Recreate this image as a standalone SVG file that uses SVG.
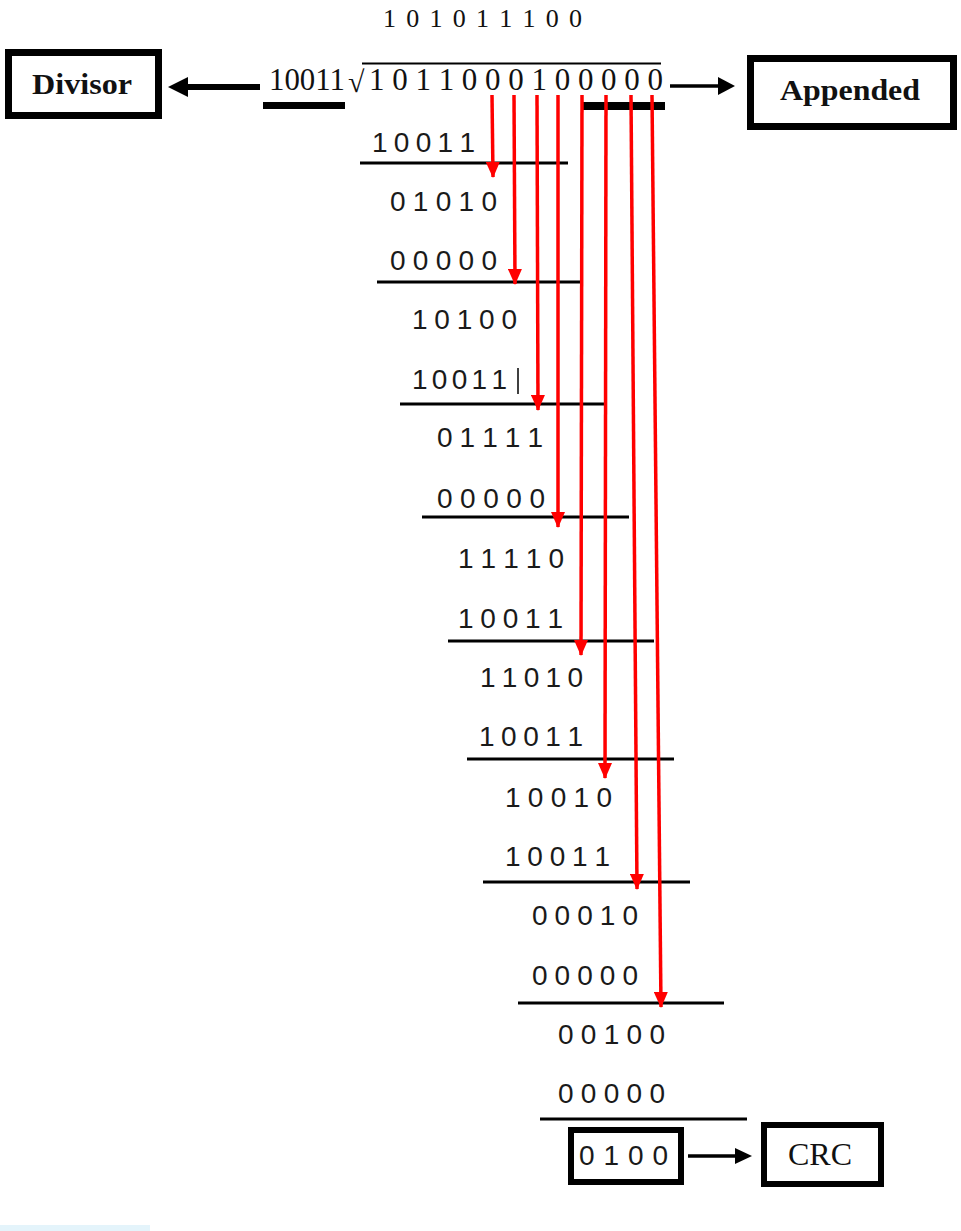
<svg xmlns="http://www.w3.org/2000/svg" width="961" height="1231" viewBox="0 0 961 1231">
<style>
.row{font-family:"Liberation Sans","DejaVu Sans",sans-serif;font-size:28px;fill:#1a1a1a}
.ser{font-family:"Liberation Serif","DejaVu Serif",serif;fill:#111}
.lbl{font-family:"Liberation Serif","DejaVu Serif",serif;font-weight:bold;fill:#111}
.box{fill:none;stroke:#000}
.rule{stroke:#000;stroke-width:3}
.red{stroke:#ff0000;stroke-width:3.5;fill:none;marker-end:url(#rh)}
</style>
<defs>
<marker id="rh" markerUnits="userSpaceOnUse" markerWidth="16" markerHeight="14" refX="15" refY="7" orient="auto">
<path d="M0,0 L16,7 L0,14 z" fill="#ff0000"/>
</marker>
</defs>
<rect width="961" height="1231" fill="#fff"/>
<rect x="0" y="1225" width="150" height="6" fill="#e4f4fb"/>

<g id="quotient">
<text class="ser" x="383" y="27" font-size="26" textLength="199" lengthAdjust="spacing">1 0 1 0 1 1 1 0 0</text>
</g>

<g id="division-line">
<text class="ser" x="269" y="90" font-size="31" textLength="76" lengthAdjust="spacingAndGlyphs">10011</text>
<text class="ser" x="348" y="92" font-size="30">√</text>
<line x1="362" y1="63.5" x2="661" y2="63.5" stroke="#000" stroke-width="2"/>
<text class="ser" x="369" y="90" font-size="31" textLength="294" lengthAdjust="spacing">1 0 1 1 0 0 0 1 0 0 0 0 0</text>
<rect x="263" y="102" width="82" height="7" fill="#000"/>
<rect x="583" y="102" width="82" height="8" fill="#000"/>
</g>

<g id="divisor">
<rect class="box" x="8.5" y="52.5" width="150" height="63" stroke-width="7"/>
<text class="lbl" x="32" y="94" font-size="29" textLength="100" lengthAdjust="spacingAndGlyphs">Divisor</text>
</g>

<g id="appended">
<rect class="box" x="750.5" y="58.5" width="203" height="68" stroke-width="7"/>
<text class="lbl" x="780" y="100" font-size="30" textLength="140" lengthAdjust="spacingAndGlyphs">Appended</text>
</g>

<g id="rows">
<text class="row" x="372" y="152" textLength="103" lengthAdjust="spacing">1 0 0 1 1</text>
<text class="row" x="390" y="211" textLength="107" lengthAdjust="spacing">0 1 0 1 0</text>
<text class="row" x="390" y="270" textLength="107" lengthAdjust="spacing">0 0 0 0 0</text>
<text class="row" x="412" y="329" textLength="105" lengthAdjust="spacing">1 0 1 0 0</text>
<text class="row" x="412" y="389" textLength="95" lengthAdjust="spacing">1 0 0 1 1</text>
<line x1="518" y1="368" x2="518" y2="394" stroke="#000" stroke-width="1.5"/>
<text class="row" x="437" y="447" textLength="106" lengthAdjust="spacing">0 1 1 1 1</text>
<text class="row" x="437" y="508" textLength="108" lengthAdjust="spacing">0 0 0 0 0</text>
<text class="row" x="458" y="568" textLength="106" lengthAdjust="spacing">1 1 1 1 0</text>
<text class="row" x="458" y="628" textLength="105" lengthAdjust="spacing">1 0 0 1 1</text>
<text class="row" x="480" y="687" textLength="103" lengthAdjust="spacing">1 1 0 1 0</text>
<text class="row" x="479" y="746" textLength="104" lengthAdjust="spacing">1 0 0 1 1</text>
<text class="row" x="505" y="807" textLength="107" lengthAdjust="spacing">1 0 0 1 0</text>
<text class="row" x="505" y="866" textLength="105" lengthAdjust="spacing">1 0 0 1 1</text>
<text class="row" x="532" y="925" textLength="106" lengthAdjust="spacing">0 0 0 1 0</text>
<text class="row" x="532" y="985" textLength="106" lengthAdjust="spacing">0 0 0 0 0</text>
<text class="row" x="558" y="1044" textLength="107" lengthAdjust="spacing">0 0 1 0 0</text>
<text class="row" x="558" y="1103" textLength="107" lengthAdjust="spacing">0 0 0 0 0</text>
</g>

<g id="rules">
<line class="rule" x1="360" y1="163" x2="568" y2="163"/>
<line class="rule" x1="377" y1="282" x2="582" y2="282"/>
<line class="rule" x1="400" y1="404" x2="605" y2="404"/>
<line class="rule" x1="422" y1="517" x2="629" y2="517"/>
<line class="rule" x1="448" y1="641" x2="654" y2="641"/>
<line class="rule" x1="467" y1="759" x2="674" y2="759"/>
<line class="rule" x1="483" y1="882" x2="690" y2="882"/>
<line class="rule" x1="518" y1="1003" x2="724" y2="1003"/>
<line class="rule" x1="540" y1="1119" x2="747" y2="1119"/>
</g>

<g id="remainder">
<rect class="box" x="571" y="1130" width="110" height="52" stroke-width="6"/>
<text class="row" x="579" y="1165" textLength="89" lengthAdjust="spacing">0 1 0 0</text>
</g>

<g id="crc">
<rect class="box" x="764" y="1125" width="117" height="59" stroke-width="6"/>
<text class="ser" x="788" y="1165" font-size="32" textLength="64" lengthAdjust="spacingAndGlyphs">CRC</text>
</g>

<g id="connectors">
<line class="red" x1="492" y1="95" x2="493" y2="177"/>
<line class="red" x1="514" y1="95" x2="515" y2="284"/>
<line class="red" x1="537" y1="95" x2="538" y2="410"/>
<line class="red" x1="558" y1="95" x2="558" y2="527"/>
<line class="red" x1="582" y1="95" x2="581" y2="655"/>
<line class="red" x1="606" y1="95" x2="605" y2="778"/>
<line class="red" x1="631" y1="95" x2="637" y2="889"/>
<line class="red" x1="652" y1="95" x2="661" y2="1007"/>
<line x1="186" y1="87" x2="260" y2="87" stroke="#000" stroke-width="6"/>
<polygon points="168,87 188,77 188,97" fill="#000"/>
<line x1="670" y1="86" x2="720" y2="86" stroke="#000" stroke-width="3.5"/>
<polygon points="735,86 718,77 718,95" fill="#000"/>
<line x1="688" y1="1156" x2="738" y2="1156" stroke="#000" stroke-width="3.5"/>
<polygon points="752,1156 735,1148 735,1164" fill="#000"/>
</g>
</svg>
